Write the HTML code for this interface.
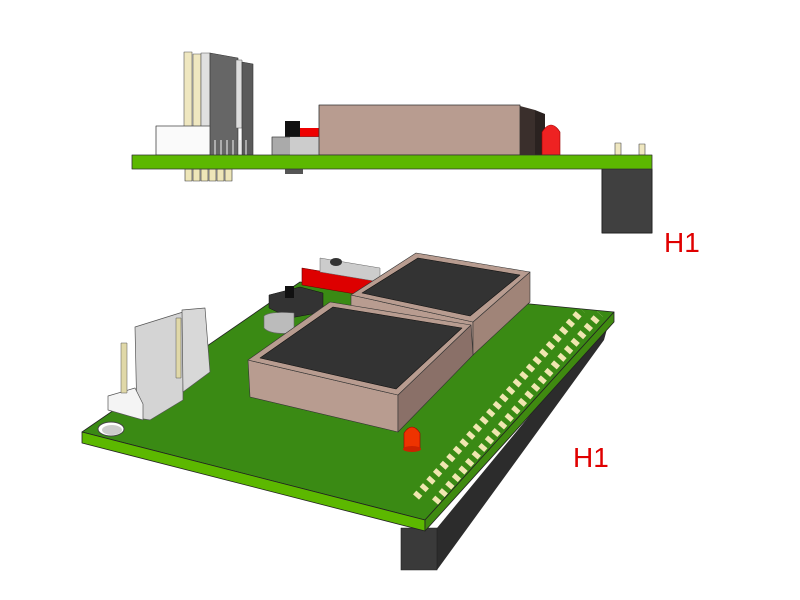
<!DOCTYPE html>
<html><head><style>html,body{margin:0;padding:0;background:#fff;width:800px;height:600px;overflow:hidden}</style></head>
<body>
<svg width="800" height="600" viewBox="0 0 800 600" xmlns="http://www.w3.org/2000/svg" stroke-linejoin="round">
<!-- TOP SIDE VIEW -->
<rect x="602" y="169" width="50" height="64" fill="#404040" stroke="#222" stroke-width="1"/>
<g fill="#eee6b8" stroke="#333" stroke-width="0.6">
<rect x="185" y="169" width="7" height="12"/><rect x="193" y="169" width="7" height="12"/><rect x="201" y="169" width="7" height="12"/><rect x="209" y="169" width="7" height="12"/><rect x="217" y="169" width="7" height="12"/><rect x="225" y="169" width="7" height="12"/>
</g>
<rect x="285" y="169" width="18" height="5" fill="#555"/>
<rect x="184" y="52" width="8" height="75" fill="#efe7c0" stroke="#555" stroke-width="0.6"/>
<rect x="193" y="54" width="8" height="73" fill="#efe7c0" stroke="#555" stroke-width="0.6"/>
<rect x="201" y="53" width="9" height="102" fill="#e0e0e0" stroke="#555" stroke-width="0.6"/>
<polygon points="210,53 238,58 238,155 210,155" fill="#666" stroke="#333" stroke-width="0.6"/>
<rect x="236" y="60" width="6" height="68" fill="#ddd" stroke="#555" stroke-width="0.5"/>
<polygon points="242,62 253,64 253,155 242,155" fill="#5a5a5a" stroke="#333" stroke-width="0.6"/>
<rect x="156" y="126" width="54" height="29" fill="#fafafa" stroke="#444" stroke-width="0.8"/>
<g stroke="#ddd" stroke-width="1.2"><line x1="215" y1="140" x2="215" y2="155"/><line x1="221" y1="140" x2="221" y2="155"/><line x1="227" y1="140" x2="227" y2="155"/><line x1="233" y1="140" x2="233" y2="155"/><line x1="240" y1="140" x2="240" y2="155"/><line x1="246" y1="140" x2="246" y2="155"/></g>
<rect x="285" y="121" width="15" height="17" fill="#111"/>
<rect x="300" y="128" width="19" height="9" fill="#e00"/>
<rect x="272" y="137" width="47" height="18" fill="#aaa" stroke="#444" stroke-width="0.8"/>
<rect x="290" y="137" width="29" height="18" fill="#ccc"/>
<rect x="319" y="105" width="201" height="50" fill="#b89c90" stroke="#333" stroke-width="0.8"/>
<polygon points="520,106 535,110 535,155 520,155" fill="#3a2f2c"/>
<polygon points="535,110 545,114 545,155 535,155" fill="#2a2220"/>
<path d="M542,155 L542,132 Q551,118 560,132 L560,155 Z" fill="#ee2222" stroke="#900" stroke-width="0.6"/>
<rect x="615" y="143" width="6" height="12" fill="#efe7c0" stroke="#444" stroke-width="0.6"/>
<rect x="639" y="144" width="6" height="11" fill="#efe7c0" stroke="#444" stroke-width="0.6"/>
<rect x="132" y="155" width="520" height="14" fill="#5cb800" stroke="#333" stroke-width="0.8"/>
<text x="664" y="252" font-family="Liberation Sans, sans-serif" font-size="28" fill="#e00000">H1</text>

<!-- BOTTOM 3D VIEW -->
<polygon points="437,528 610,318 604,340 437,570" fill="#2c2c2c"/>
<rect x="401" y="528" width="36" height="42" fill="#3a3a3a" stroke="#222" stroke-width="0.6"/>
<polygon points="82,432 425,520 614,312 300,282" fill="#3a8a14" stroke="#222" stroke-width="0.8"/>
<polygon points="82,432 425,520 425,531 82,443" fill="#5cb800" stroke="#222" stroke-width="0.8"/>
<polygon points="425,520 614,312 614,322 425,531" fill="#3f8a10" stroke="#222" stroke-width="0.8"/>
<ellipse cx="111" cy="429" rx="13" ry="7" fill="#fff" stroke="#444" stroke-width="1"/>
<ellipse cx="112" cy="430" rx="10" ry="5" fill="#ccc"/>
<polygon points="302,268 373,280 373,297 302,285" fill="#dd0000" stroke="#600" stroke-width="0.6"/>
<polygon points="320,258 380,268 380,282 320,272" fill="#ccc" stroke="#666" stroke-width="0.5"/>
<ellipse cx="336" cy="262" rx="6" ry="4" fill="#333"/>
<polygon points="269,295 300,287 323,293 323,312 290,318 269,308" fill="#333" stroke="#111" stroke-width="0.5"/>
<rect x="285" y="286" width="9" height="12" fill="#111"/>
<path d="M264,316 Q270,311 294,313 L294,333 Q270,335 264,328 Z" fill="#bbb" stroke="#666" stroke-width="0.6"/>
<polygon points="351,295 473,322 473,355 351,308" fill="#b89c90" stroke="#333" stroke-width="0.6"/>
<polygon points="473,322 530,272 530,302 473,355" fill="#a08478" stroke="#333" stroke-width="0.6"/>
<polygon points="351,295 416,253 530,272 473,322" fill="#b89c90" stroke="#333" stroke-width="0.6"/>
<polygon points="362,293 418,258 520,275 470,316" fill="#333" stroke="#111" stroke-width="0.6"/>
<polygon points="248,360 398,395 398,432 250,397" fill="#b89c90" stroke="#333" stroke-width="0.6"/>
<polygon points="398,395 471,325 473,355 398,432" fill="#8a7068" stroke="#333" stroke-width="0.6"/>
<polygon points="248,360 330,302 471,325 398,395" fill="#b89c90" stroke="#333" stroke-width="0.6"/>
<polygon points="260,358 333,307 462,328 396,389" fill="#333" stroke="#111" stroke-width="0.6"/>
<path d="M404,448 L404,433 Q412,421 420,433 L420,448 Z" fill="#ee3300" stroke="#900" stroke-width="0.6"/>
<ellipse cx="412" cy="449" rx="9" ry="3" fill="#cc2200"/>
<line x1="416" y1="497" x2="582" y2="310" stroke="#f0e6b0" stroke-width="8" stroke-dasharray="5 5"/>
<line x1="435" y1="502" x2="600" y2="314" stroke="#f0e6b0" stroke-width="8" stroke-dasharray="5 5"/>
<polygon points="135,327 183,312 183,400 150,420 137,418" fill="#d4d4d4" stroke="#555" stroke-width="0.7"/>
<polygon points="182,310 205,308 210,372 183,392" fill="#d8d8d8" stroke="#555" stroke-width="0.7"/>
<polygon points="108,396 135,388 143,404 143,420 108,410" fill="#f4f4f4" stroke="#555" stroke-width="0.7"/>
<rect x="121" y="343" width="6" height="50" fill="#e0d8a8" stroke="#555" stroke-width="0.5"/>
<rect x="176" y="318" width="5" height="60" fill="#e0d8a8" stroke="#555" stroke-width="0.5"/>
<text x="573" y="467" font-family="Liberation Sans, sans-serif" font-size="28" fill="#e00000">H1</text>
</svg>
</body></html>
